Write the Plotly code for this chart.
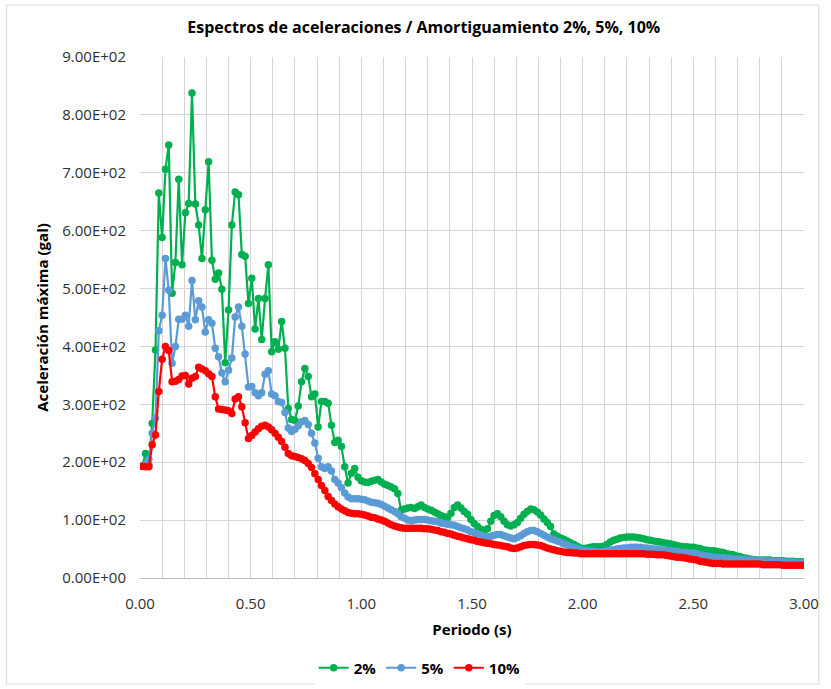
import numpy as np
import plotly.graph_objects as go

# Period grid (s)
periodo = np.round(0.01 + 0.015 * np.arange(200), 3)

# Spectral acceleration (gal) for 2 % damping
sa_2 = [
    193, 215, 195, 267, 394, 665, 588, 706, 748, 492,
    545, 689, 541, 631, 647, 838, 646, 610, 552, 636,
    719, 549, 516, 527, 499, 372, 463, 610, 667, 662,
    559, 556, 474, 518, 430, 483, 412, 483, 541, 391,
    408, 395, 443, 397, 293, 274, 272, 297, 339, 362,
    348, 313, 318, 261, 305, 305, 302, 264, 234, 238,
    227, 192, 164, 181, 189, 174, 168, 166, 165, 167,
    169, 170, 166, 162, 160, 157, 154, 146, 117, 119,
    121, 122, 120, 123, 126, 122, 119, 117, 114, 111,
    108, 106, 104, 112, 122, 126, 121, 115, 110, 101,
    94, 89, 84, 82, 85, 98, 108, 111, 106, 98,
    92, 90, 92, 96, 103, 110, 115, 119, 118, 114,
    109, 102, 96, 89, 76, 72, 69, 67, 64, 61,
    58, 55, 52, 51, 52, 53, 54, 54, 54, 55,
    58, 62, 65, 67, 69, 70, 71, 71, 71, 70,
    69, 68, 66, 65, 64, 63, 62, 61, 60, 59,
    58, 56, 55, 54, 54, 53, 53, 52, 51, 49,
    48, 47, 47, 46, 45, 44, 42, 41, 40, 38,
    37, 35, 34, 33, 32, 31, 31, 31, 31, 31,
    30, 30, 30, 30, 29, 29, 29, 28, 28, 28,
]

# Spectral acceleration (gal) for 5 % damping
sa_5 = [
    193, 196, 205, 250, 276, 427, 454, 552, 497, 371,
    400, 447, 447, 454, 435, 514, 446, 479, 468, 425,
    446, 440, 397, 382, 354, 339, 359, 380, 451, 468,
    435, 387, 330, 331, 320, 315, 320, 352, 358, 318,
    315, 305, 303, 286, 259, 253, 257, 263, 270, 272,
    265, 250, 233, 207, 192, 189, 192, 185, 170, 164,
    156, 147, 140, 137, 137, 137, 136, 135, 133, 131,
    130, 129, 127, 124, 121, 118, 115, 111, 106, 103,
    100, 99, 100, 101, 101, 101, 100, 99, 98, 97,
    95, 94, 93, 92, 91, 89, 87, 85, 83, 80,
    78, 76, 74, 72, 71, 72, 74, 75, 75, 73,
    71, 69, 68, 70, 73, 77, 80, 82, 82, 80,
    77, 74, 71, 68, 66, 64, 62, 59, 57, 55,
    53, 51, 49, 48, 47, 46, 46, 45, 45, 46,
    47, 48, 49, 50, 51, 52, 52, 53, 53, 53,
    53, 52, 52, 51, 50, 50, 49, 48, 48, 47,
    46, 46, 45, 44, 44, 43, 43, 42, 40, 39,
    38, 37, 36, 36, 35, 35, 34, 34, 33, 33,
    33, 32, 32, 31, 31, 30, 30, 30, 29, 29,
    29, 28, 28, 28, 27, 27, 27, 26, 26, 26,
]

# Spectral acceleration (gal) for 10 % damping
sa_10 = [
    193, 192, 192, 230, 247, 322, 378, 400, 393, 339,
    340, 343, 349, 350, 335, 345, 348, 364, 361, 358,
    353, 348, 313, 292, 291, 290, 289, 284, 309, 313,
    296, 268, 241, 246, 252, 258, 262, 264, 261, 256,
    250, 243, 236, 226, 215, 211, 210, 208, 206, 203,
    198, 191, 180, 170, 160, 151, 141, 134, 128, 123,
    119, 116, 113, 112, 111, 111, 110, 109, 107, 105,
    104, 102, 100, 98, 95, 92, 90, 88, 87, 86,
    86, 86, 86, 86, 86, 85, 85, 84, 83, 82,
    80, 79, 77, 76, 74, 72, 71, 69, 68, 66,
    65, 63, 62, 61, 60, 59, 58, 57, 56, 55,
    54, 52, 51, 52, 54, 56, 57, 58, 58, 57,
    56, 54, 52, 50, 49, 47, 46, 45, 44, 44,
    43, 43, 42, 42, 42, 42, 42, 42, 42, 42,
    42, 42, 42, 42, 42, 42, 42, 42, 42, 42,
    42, 42, 41, 41, 41, 40, 40, 40, 39, 38,
    37, 36, 36, 35, 34, 33, 32, 31, 29, 28,
    27, 26, 25, 25, 25, 24, 24, 24, 24, 24,
    24, 24, 24, 24, 24, 24, 24, 23, 23, 23,
    23, 23, 23, 22, 22, 22, 22, 22, 22, 22,
]

series = [
    ("2%", sa_2, "#00b050"),
    ("5%", sa_5, "#5b9bd5"),
    ("10%", sa_10, "#ff0000"),
]

y_ticks = list(range(0, 901, 100))
y_ticktext = [f"{v:.2E}" for v in y_ticks]
x_ticks = [0.0, 0.5, 1.0, 1.5, 2.0, 2.5, 3.0]

FONT = "Open Sans"

fig = go.Figure()
for name, vals, color in series:
    fig.add_trace(go.Scatter(
        x=periodo, y=vals, name=f"<b>{name}</b>", mode="lines+markers",
        line=dict(color=color, width=2.2),
        marker=dict(color=color, size=7.5),
    ))

fig.update_layout(
    width=831, height=689,
    margin=dict(l=140, r=20, t=57, b=111),
    paper_bgcolor="white", plot_bgcolor="white",
    font=dict(family=FONT, size=14, color="#404040"),
    title=dict(
        text="<b>Espectros de aceleraciones / Amortiguamiento 2%, 5%, 10%</b>",
        x=0.51, xref="container", xanchor="center",
        y=1 - 27 / 689, yref="container", yanchor="middle",
        font=dict(family=FONT, size=16, color="#000000"),
    ),
    xaxis=dict(
        range=[0, 3.0], tickvals=x_ticks, tickformat=".2f",
        showgrid=True, gridcolor="#d4d4d4", gridwidth=1,
        minor=dict(dtick=0.1, showgrid=True, gridcolor="#d4d4d4", gridwidth=1),
        zeroline=False, showline=True, linecolor="#bfbfbf", linewidth=1,
        ticks="outside", ticklen=12, tickcolor="rgba(0,0,0,0)",
        tickfont=dict(size=15, color="#303030"),
        title=dict(text="<b>Periodo (s)</b>", standoff=12,
                   font=dict(family=FONT, size=15, color="#000000")),
    ),
    yaxis=dict(
        range=[0, 900], tickvals=y_ticks, ticktext=y_ticktext,
        showgrid=True, gridcolor="#d4d4d4", gridwidth=1,
        zeroline=False, showline=False,
        ticks="outside", ticklen=10, tickcolor="rgba(0,0,0,0)",
        tickfont=dict(size=15, color="#303030"),
        title=dict(text="<b>Aceleración máxima (gal)</b>", standoff=10,
                   font=dict(family=FONT, size=15, color="#000000")),
    ),
    legend=dict(
        orientation="h", xref="container", yref="container",
        x=0.505, xanchor="center", y=21 / 689, yanchor="middle",
        font=dict(family=FONT, size=15, color="#000000"),
        itemwidth=30, traceorder="normal",
    ),
    showlegend=True,
)

# Outer frame of the chart area
fig.add_shape(
    type="rect", xref="paper", yref="paper",
    x0=(5 - 140) / 671, x1=(826 - 140) / 671,
    y0=(578 - 684) / 521, y1=(578 - 5) / 521,
    line=dict(color="#d9d9d9", width=1), layer="below",
)

fig.write_html("out.html")
